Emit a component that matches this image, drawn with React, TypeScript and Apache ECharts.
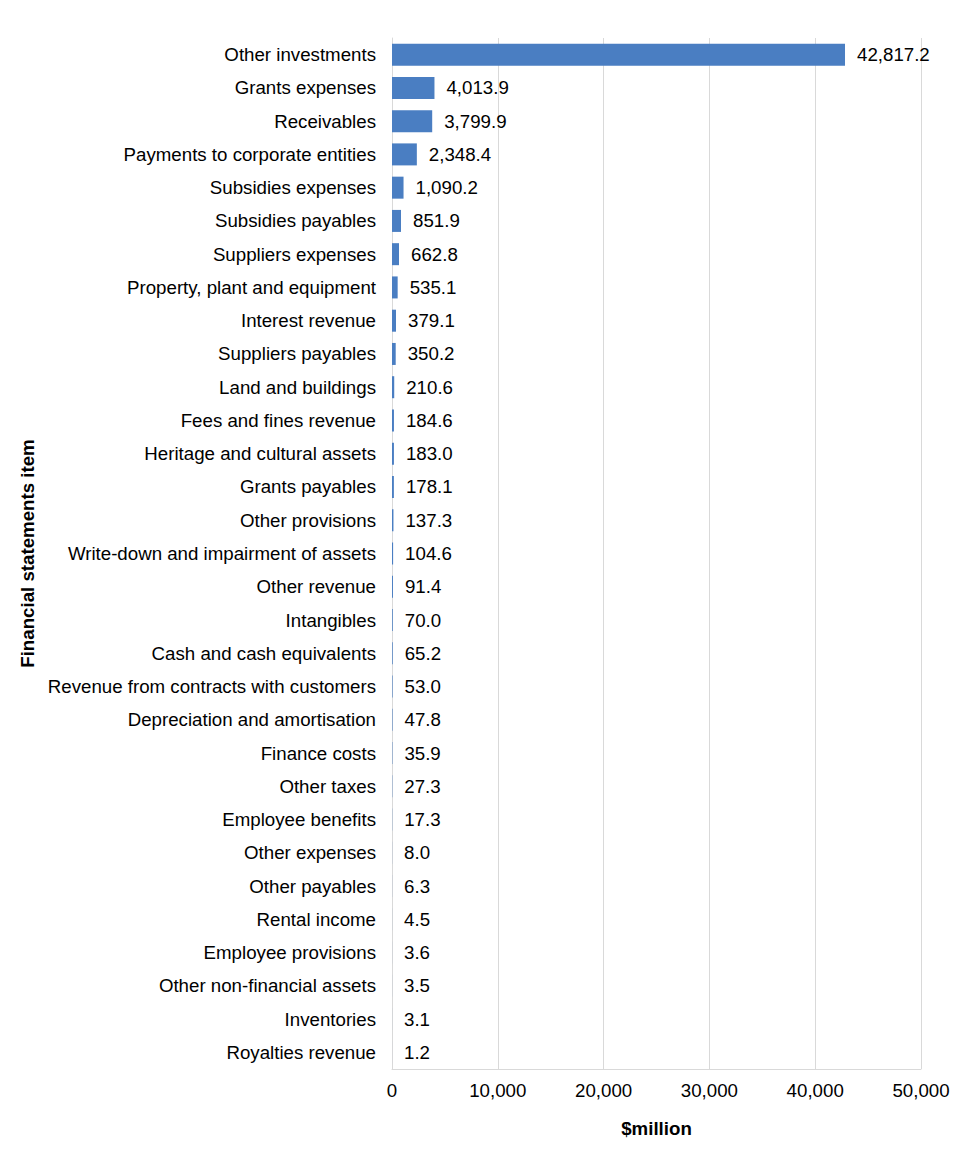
import React, { useEffect, useRef } from "react";
import * as echarts from "echarts";

const categories = [
  "Other investments",
  "Grants expenses",
  "Receivables",
  "Payments to corporate entities",
  "Subsidies expenses",
  "Subsidies payables",
  "Suppliers expenses",
  "Property, plant and equipment",
  "Interest revenue",
  "Suppliers payables",
  "Land and buildings",
  "Fees and fines revenue",
  "Heritage and cultural assets",
  "Grants payables",
  "Other provisions",
  "Write-down and impairment of assets",
  "Other revenue",
  "Intangibles",
  "Cash and cash equivalents",
  "Revenue from contracts with customers",
  "Depreciation and amortisation",
  "Finance costs",
  "Other taxes",
  "Employee benefits",
  "Other expenses",
  "Other payables",
  "Rental income",
  "Employee provisions",
  "Other non-financial assets",
  "Inventories",
  "Royalties revenue",
];

const values = [
  42817.2, 4013.9, 3799.9, 2348.4, 1090.2, 851.9, 662.8, 535.1, 379.1, 350.2,
  210.6, 184.6, 183.0, 178.1, 137.3, 104.6, 91.4, 70.0, 65.2, 53.0, 47.8, 35.9,
  27.3, 17.3, 8.0, 6.3, 4.5, 3.6, 3.5, 3.1, 1.2,
];

const xTicks = { min: 0, max: 50000, interval: 10000 };

const fmt1 = (v: number) =>
  v.toLocaleString("en-US", { minimumFractionDigits: 1, maximumFractionDigits: 1 });
const fmt0 = (v: number) => v.toLocaleString("en-US");

export default function App() {
  const ref = useRef<HTMLDivElement>(null);
  useEffect(() => {
    document.body.style.margin = "0";
    const chart = echarts.init(ref.current!, null, { renderer: "svg" });
    const font = "Arial, 'Liberation Sans', sans-serif";
    const fs = 18.7;
    chart.setOption({
      animation: false,
      textStyle: { fontFamily: font },
      grid: { left: 392, right: 52, top: 38, bottom: 107 },
      xAxis: {
        type: "value",
        min: xTicks.min,
        max: xTicks.max,
        interval: xTicks.interval,
        name: "$million",
        nameLocation: "middle",
        nameGap: 50,
        nameTextStyle: { fontSize: fs, fontWeight: "bold", color: "#000", fontFamily: font },
        axisLine: { show: true, lineStyle: { color: "#D9D9D9", width: 1 } },
        axisTick: { show: false },
        axisLabel: {
          fontSize: fs,
          color: "#000",
          margin: 12,
          fontFamily: font,
          formatter: (v: number) => fmt0(v),
        },
        splitLine: { show: true, lineStyle: { color: "#D9D9D9", width: 1 } },
      },
      yAxis: {
        type: "category",
        data: categories,
        inverse: true,
        name: "Financial statements item",
        nameLocation: "middle",
        nameGap: 347,
        nameRotate: 90,
        nameTextStyle: { fontSize: fs, fontWeight: "bold", color: "#000", fontFamily: font },
        axisLine: { show: true, lineStyle: { color: "#D9D9D9", width: 1 } },
        axisTick: { show: false },
        axisLabel: { fontSize: fs, color: "#000", margin: 16, fontFamily: font },
      },
      series: [
        {
          type: "bar",
          data: values,
          barWidth: 22,
          itemStyle: { color: "#4A7EC2" },
          label: {
            show: true,
            position: "right",
            distance: 12,
            fontSize: fs,
            color: "#000",
            fontFamily: font,
            formatter: (p: any) => fmt1(p.value),
          },
        },
      ],
    });
    return () => chart.dispose();
  }, []);
  return <div ref={ref} style={{ width: 973, height: 1176 }} />;
}
